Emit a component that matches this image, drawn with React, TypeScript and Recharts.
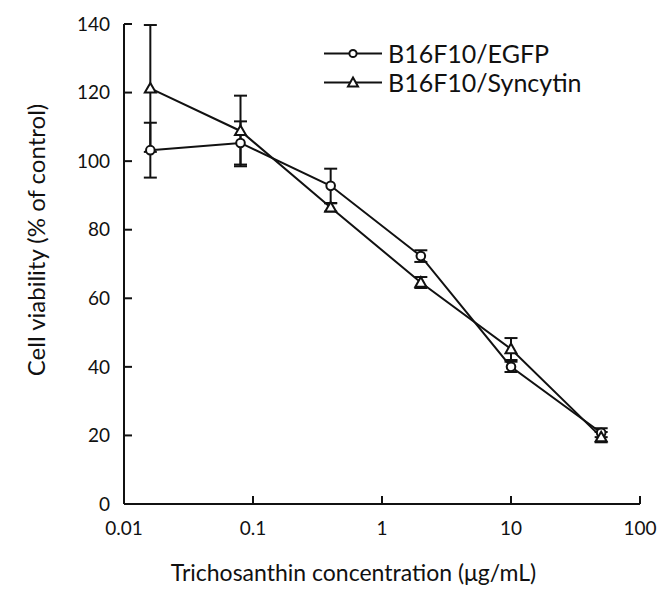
import React from 'react';
import { ComposedChart, Line, XAxis, YAxis, ErrorBar, Legend, Label } from 'recharts';

const concentrations = [0.016, 0.08, 0.4, 2, 10, 50];
const egfpMean = [103.2, 105.3, 92.8, 72.3, 40.0, 20.8];
const egfpErr = [8.0, 6.3, 5.0, 1.7, 1.5, 1.3];
const syncytinMean = [121.2, 108.8, 86.5, 64.6, 45.2, 19.5];
const syncytinErr = [18.5, 10.3, 1.2, 1.6, 3.2, 1.5];
const xTicks = [0.01, 0.1, 1, 10, 100];
const yTicks = [0, 20, 40, 60, 80, 100, 120, 140];
const seriesNames = ['B16F10/EGFP', 'B16F10/Syncytin'];
const xTitle = 'Trichosanthin concentration (μg/mL)';
const yTitle = 'Cell viability (% of control)';

const data = concentrations.map((c, i) => ({
  conc: c,
  egfp: egfpMean[i],
  egfpErr: egfpErr[i],
  syn: syncytinMean[i],
  synErr: syncytinErr[i],
}));

const FONT = 'Lato, "DejaVu Sans", sans-serif';
const INK = '#111';

const CircleDot = (props: any) => {
  const { cx, cy, index } = props;
  if (cx == null || cy == null) return <g key={`c${index}`} />;
  return <circle key={`c${index}`} cx={cx} cy={cy} r={4.3} fill="#fff" stroke={INK} strokeWidth={2} />;
};

const TriangleDot = (props: any) => {
  const { cx, cy, index } = props;
  if (cx == null || cy == null) return <g key={`t${index}`} />;
  const s = 5.5;
  return (
    <path
      key={`t${index}`}
      d={`M${cx},${cy - s} L${cx + s},${cy + s * 0.75} L${cx - s},${cy + s * 0.75} Z`}
      fill="#fff"
      stroke={INK}
      strokeWidth={2}
    />
  );
};

const renderLegend = () => (
  <div style={{ fontFamily: FONT, fontSize: 25, color: INK }}>
    {seriesNames.map((name, i) => (
      <div key={name} style={{ display: 'flex', alignItems: 'center', height: 29 }}>
        <svg width={60} height={29}>
          <line x1={1} x2={59} y1={14.5} y2={14.5} stroke={INK} strokeWidth={2} />
          {i === 0 ? (
            <circle cx={30} cy={14.5} r={3.6} fill="#fff" stroke={INK} strokeWidth={2} />
          ) : (
            <path d="M30,9.5 L35,18.5 L25,18.5 Z" fill="#fff" stroke={INK} strokeWidth={2} />
          )}
        </svg>
        <span style={{ marginLeft: 5, lineHeight: '29px', whiteSpace: 'nowrap' }}>{name}</span>
      </div>
    ))}
  </div>
);

const XTitle = (props: any) => {
  const vb = props.viewBox;
  return (
    <text
      x={vb.x + 229.5}
      y={vb.y + 68}
      textAnchor="middle"
      dominantBaseline="central"
      fontFamily={FONT}
      fontSize={23}
      fill={INK}
    >
      {xTitle}
    </text>
  );
};

const YTitle = (props: any) => {
  const vb = props.viewBox;
  const x = vb.x + 27;
  const y = 232;
  return (
    <text
      transform={`translate(${x},${y}) rotate(-90)`}
      textAnchor="middle"
      dominantBaseline="central"
      fontFamily={FONT}
      fontSize={24}
      fill={INK}
    >
      {yTitle}
    </text>
  );
};

export default function App() {
  return (
    <ComposedChart
      width={661}
      height={596}
      data={data}
      margin={{ top: 16, right: 29, left: 0, bottom: 40 }}
      style={{ fontFamily: FONT, background: '#fff' }}
    >
      <XAxis
        dataKey="conc"
        type="number"
        scale="log"
        domain={[0.01, 100]}
        ticks={xTicks}
        allowDataOverflow
        tickFormatter={(v: number) => String(v)}
        height={60}
        tickSize={-8}
        tickMargin={26}
        axisLine={{ stroke: INK, strokeWidth: 2 }}
        tickLine={{ stroke: INK, strokeWidth: 2 }}
        tick={{ fill: INK, fontSize: 19, fontFamily: FONT }}
      >
        <Label content={<XTitle />} />
      </XAxis>
      <YAxis
        type="number"
        domain={[0, 140]}
        ticks={yTicks}
        width={116}
        tickSize={-8}
        tickMargin={22}
        axisLine={{ stroke: INK, strokeWidth: 2 }}
        tickLine={{ stroke: INK, strokeWidth: 2 }}
        tick={{ fill: INK, fontSize: 19, fontFamily: FONT }}
      >
        <Label content={<YTitle />} />
      </YAxis>
      <Legend
        layout="horizontal"
        verticalAlign="middle"
        align="center"
        content={renderLegend}
        wrapperStyle={{ left: 315, top: 31, width: 330 }}
      />
      <Line
        dataKey="egfp"
        name={seriesNames[0]}
        stroke={INK}
        strokeWidth={2}
        dot={CircleDot}
        activeDot={false}
        isAnimationActive={false}
      >
        <ErrorBar dataKey="egfpErr" direction="y" width={6.5} stroke={INK} strokeWidth={2} isAnimationActive={false} />
      </Line>
      <Line
        dataKey="syn"
        name={seriesNames[1]}
        stroke={INK}
        strokeWidth={2}
        dot={TriangleDot}
        activeDot={false}
        isAnimationActive={false}
      >
        <ErrorBar dataKey="synErr" direction="y" width={6.5} stroke={INK} strokeWidth={2} isAnimationActive={false} />
      </Line>
    </ComposedChart>
  );
}
